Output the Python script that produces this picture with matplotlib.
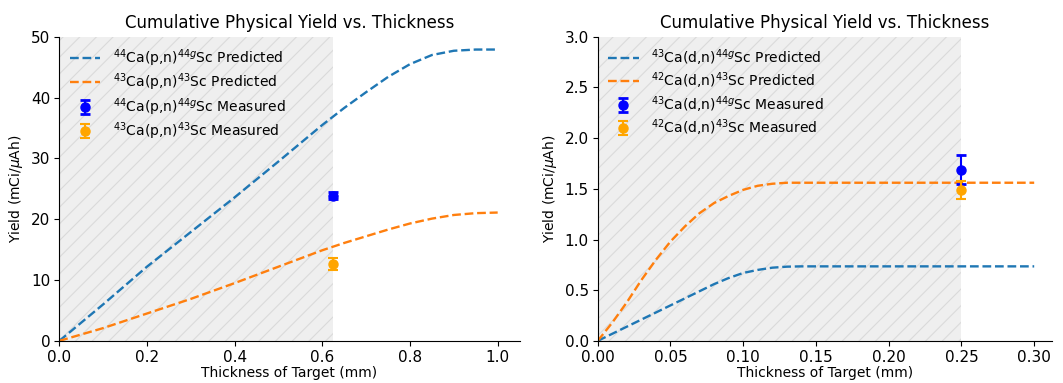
import matplotlib
matplotlib.use("Agg")
import matplotlib.pyplot as plt

plt.rcParams["hatch.linewidth"] = 0.8

# ── data ─────────────────────────────────────────────────────────────────────
# left panel: (p,n)
pn_x = [0.0, 0.1, 0.2, 0.3, 0.4, 0.5, 0.6, 0.65, 0.7, 0.75, 0.8, 0.85, 0.9, 0.95, 1.0]
pn_44_pred = [0.0, 6.0, 12.2, 17.9, 23.6, 29.5, 35.5, 38.3, 40.9, 43.4, 45.5, 47.0, 47.7, 47.9, 47.9]
pn_43_pred = [0.0, 2.1, 4.5, 6.9, 9.5, 12.2, 14.9, 16.1, 17.2, 18.3, 19.3, 20.1, 20.7, 21.0, 21.1]
pn_meas_x = 0.625
pn_44_meas, pn_44_err = 23.9, 0.6
pn_43_meas, pn_43_err = 12.7, 1.0
pn_shade = 0.625

# right panel: (d,n)
dn_x = [0.0, 0.01, 0.02, 0.03, 0.04, 0.05, 0.06, 0.07, 0.08, 0.09, 0.10, 0.11, 0.12, 0.13, 0.14, 0.30]
dn_44_pred = [0.0, 0.07, 0.14, 0.21, 0.28, 0.35, 0.42, 0.49, 0.56, 0.62, 0.67, 0.70, 0.722, 0.732, 0.735, 0.735]
dn_43_pred = [0.0, 0.18, 0.38, 0.60, 0.80, 0.98, 1.13, 1.26, 1.36, 1.43, 1.49, 1.53, 1.55, 1.56, 1.56, 1.56]
dn_meas_x = 0.25
dn_44_meas, dn_44_err = 1.69, 0.14
dn_43_meas, dn_43_err = 1.49, 0.09
dn_shade = 0.25

TITLE = "Cumulative Physical Yield vs. Thickness"


def panel(ax, x, y44, y43, mx, m44, e44, m43, e43, shade, labels, xlim, ylim,
          yticks, xticks, xfmt, yfmt):
    ax.axvspan(0, shade, facecolor="#efefef", edgecolor="#dadada", hatch="//",
               linewidth=0, zorder=0)
    ax.plot(x, y44, color="#1f77b4", ls="--", lw=1.7, label=labels[0])
    ax.plot(x, y43, color="#ff7f0e", ls="--", lw=1.7, label=labels[1])
    ax.errorbar([mx], [m44], yerr=[e44], fmt="o", color="blue", ms=6.5, capsize=3.5,
                capthick=2, label=labels[2])
    ax.errorbar([mx], [m43], yerr=[e43], fmt="o", color="orange", ms=6.5, capsize=3.5,
                capthick=1.5, label=labels[3])
    ax.set_xlim(*xlim)
    ax.set_ylim(*ylim)
    ax.set_xticks(xticks)
    ax.set_yticks(yticks)
    ax.set_xticklabels([xfmt.format(t) for t in xticks])
    ax.set_yticklabels([yfmt.format(t) for t in yticks])
    ax.spines["top"].set_visible(False)
    ax.spines["right"].set_visible(False)
    ax.tick_params(labelsize=11, pad=3)
    ax.set_title(TITLE, fontsize=12)
    ax.set_xlabel("Thickness of Target (mm)", fontsize=10, labelpad=1)
    ax.set_ylabel(r"Yield (mCi/$\mu$Ah)", fontsize=10)
    ax.legend(loc="upper left", frameon=False, fontsize=10, handlelength=2.2,
              borderaxespad=0.35, labelspacing=0.2, handletextpad=0.9)


fig = plt.figure(figsize=(10.63, 3.83), dpi=100)
ax1 = fig.add_axes([0.0558, 0.110, 0.433, 0.794])
ax2 = fig.add_axes([0.5623, 0.110, 0.4277, 0.794])

panel(ax1, pn_x, pn_44_pred, pn_43_pred, pn_meas_x,
      pn_44_meas, pn_44_err, pn_43_meas, pn_43_err, pn_shade,
      [r"$^{44}$Ca(p,n)$^{44g}$Sc Predicted", r"$^{43}$Ca(p,n)$^{43}$Sc Predicted",
       r"$^{44}$Ca(p,n)$^{44g}$Sc Measured", r"$^{43}$Ca(p,n)$^{43}$Sc Measured"],
      (0, 1.05), (0, 50), [0, 10, 20, 30, 40, 50], [0, 0.2, 0.4, 0.6, 0.8, 1.0],
      "{:.1f}", "{:.0f}")

panel(ax2, dn_x, dn_44_pred, dn_43_pred, dn_meas_x,
      dn_44_meas, dn_44_err, dn_43_meas, dn_43_err, dn_shade,
      [r"$^{43}$Ca(d,n)$^{44g}$Sc Predicted", r"$^{42}$Ca(d,n)$^{43}$Sc Predicted",
       r"$^{43}$Ca(d,n)$^{44g}$Sc Measured", r"$^{42}$Ca(d,n)$^{43}$Sc Measured"],
      (0, 0.3125), (0, 3.0), [0, 0.5, 1.0, 1.5, 2.0, 2.5, 3.0],
      [0, 0.05, 0.10, 0.15, 0.20, 0.25, 0.30], "{:.2f}", "{:.1f}")

fig.savefig("out.png", dpi=100)
